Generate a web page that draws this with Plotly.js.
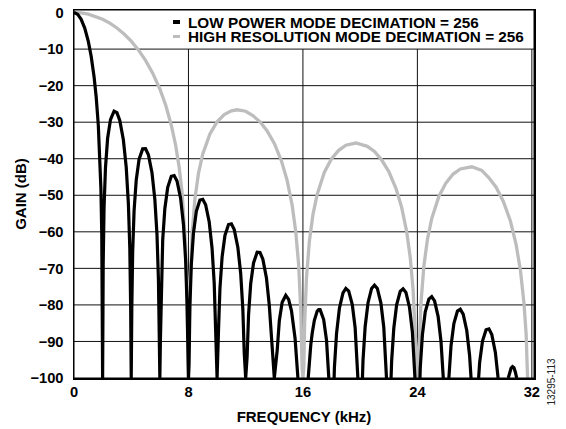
<!DOCTYPE html>
<html>
<head>
<meta charset="utf-8">
<script src="https://cdn.plot.ly/plotly-3.0.1.min.js"></script>
<style>
  html, body { margin: 0; padding: 0; background: #ffffff; overflow: hidden; }
  #wrap { position: relative; width: 566px; height: 429px; }
  #chart { width: 566px; height: 429px; }
  .key { position: absolute; left: 173px; width: 7px; height: 3.5px; }
  #fig { position: absolute; left: 551px; top: 382px; transform: translate(-50%, -50%) rotate(-90deg);
         font: 10px "Liberation Sans", Arial, sans-serif; color: #222222; white-space: nowrap; }
</style>
</head>
<body>
<div id="wrap">
  <div id="chart"></div>
  <div class="key" id="key0" style="top:20.25px;background:#000000;"></div>
  <div class="key" id="key1" style="top:34.75px;background:#bdbdbd;"></div>
  <div id="fig"></div>
</div>
<script>
// ---- Data ----
const seriesNames = [
  "LOW POWER MODE DECIMATION = 256",
  "HIGH RESOLUTION MODE DECIMATION = 256"
];

// Low power mode (black) – frequency in kHz, gain in dB (null = curve below the -100 dB floor)
const lowPowerFreq = [
  0, 0.25, 0.5, 0.75, 1.0, 1.2, 1.4, 1.55, 1.7, 1.8, 1.88, 1.94, 1.98, 2.0,
  2.04, 2.1, 2.2, 2.35, 2.55, 2.8, 3.0, 3.2, 3.45, 3.65, 3.8, 3.9, 3.96, 4.0,
  4.04, 4.1, 4.2, 4.35, 4.55, 4.8, 5.0, 5.2, 5.45, 5.65, 5.8, 5.9, 5.96, 6.0,
  6.04, 6.1, 6.2, 6.35, 6.55, 6.8, 7.0, 7.2, 7.45, 7.65, 7.8, 7.9, 7.96, 8.0,
  8.04, 8.1, 8.2, 8.35, 8.55, 8.8, 9.0, 9.2, 9.45, 9.65, 9.8, 9.9, 10.0,
  10.1, 10.2, 10.35, 10.55, 10.8, 11.0, 11.2, 11.45, 11.65, 11.8, 11.9, 12.0,
  12.1, 12.2, 12.35, 12.55, 12.8, 13.0, 13.2, 13.45, 13.65, 13.8, 14.0,
  14.2, 14.35, 14.55, 14.8, 15.0, 15.2, 15.45, 15.65, 16.0,
  16.37, 16.45, 16.55, 16.65, 16.8, 17.0, 17.1, 17.2, 17.45, 17.65, 17.8, 17.81, 18.0,
  18.18, 18.2, 18.35, 18.55, 18.8, 19.0, 19.2, 19.45, 19.65, 19.8, 19.84, 20.0,
  20.16, 20.2, 20.35, 20.55, 20.8, 21.0, 21.2, 21.45, 21.65, 21.8, 21.84, 22.0,
  22.16, 22.2, 22.35, 22.55, 22.8, 23.0, 23.2, 23.45, 23.65, 23.8, 23.83, 24.0,
  24.18, 24.2, 24.35, 24.55, 24.8, 25.0, 25.2, 25.45, 25.65, 25.8, 25.81, 26.0,
  26.2, 26.35, 26.55, 26.8, 27.0, 27.2, 27.45, 27.65, 27.75, 28.0,
  28.28, 28.35, 28.55, 28.8, 29.0, 29.2, 29.45, 29.64, 30.0,
  30.35, 30.45, 30.55, 30.65, 30.75, 30.85, 30.94
];
const lowPowerGain = [
  0, -0.45, -1.84, -4.25, -7.9, -11.96, -17.48, -23.1, -30.9, -38.6, -48.1, -60.6, -80.0, -100,
  -68.8, -53.4, -42.4, -34.4, -29.3, -27.0, -27.4, -29.5, -34.8, -42.3, -52.2, -64.4, -80.6, -100,
  -81.2, -65.6, -54.2, -45.8, -40.1, -37.3, -37.25, -38.9, -43.8, -51.1, -60.7, -72.9, -89.0, -100,
  -89.4, -73.7, -62.2, -53.6, -47.8, -44.8, -44.6, -46.1, -50.8, -58.0, -67.6, -79.8, -95.8, -100,
  -96.1, -80.4, -68.9, -60.3, -54.4, -51.3, -51.1, -52.6, -57.3, -64.5, -74.1, -86.2, -100,
  -86.9, -75.5, -66.9, -61.0, -58.0, -57.8, -59.4, -64.2, -71.4, -81.1, -93.3, -100,
  -94.1, -82.7, -74.2, -68.5, -65.6, -65.65, -67.5, -72.6, -80.1, -90.0, -100,
  -92.5, -84.3, -79.3, -77.4, -78.5, -81.6, -89.1, -100, null,
  -100, -95.3, -90.9, -87.7, -84.2, -81.7, -81.3, -81.3, -84.0, -89.7, -98.3, -100, null,
  -100, -97.2, -87.8, -80.9, -76.7, -75.5, -76.2, -79.9, -86.3, -95.3, -100, null,
  -100, -95.1, -85.9, -79.4, -75.5, -74.6, -75.5, -79.5, -86.1, -95.3, -100, null,
  -100, -95.4, -86.4, -80.0, -76.3, -75.6, -76.6, -80.7, -87.4, -96.7, -100, null,
  -100, -97.2, -88.2, -81.9, -78.4, -77.75, -78.9, -83.2, -90.0, -99.4, -100, null,
  -100, -91.2, -85.1, -81.7, -81.2, -82.5, -87.0, -93.9, -100, null,
  -100, -95.8, -89.9, -86.8, -86.55, -88.1, -93.0, -100, null,
  -100, -98.4, -97.3, -96.9, -97.2, -98.4, -100
];

// High resolution mode (gray)
const highResFreq = [
  0, 0.5, 1, 1.5, 2, 2.5, 3, 3.5, 4, 4.5, 5, 5.5, 6, 6.4, 6.8, 7.1, 7.35, 7.55, 7.7, 7.8, 7.88, 7.94, 8,
  8.06, 8.12, 8.25, 8.45, 8.7, 9.0, 9.5, 10, 10.5, 11, 11.4, 12, 12.5, 13, 13.5, 14, 14.5, 14.9, 15.25, 15.5, 15.7, 15.85, 15.94, 16,
  16.06, 16.12, 16.25, 16.45, 16.7, 17, 17.5, 18, 18.5, 19, 19.7, 20.5, 21, 21.5, 22, 22.5, 22.9, 23.25, 23.5, 23.7, 23.85, 24,
  24.12, 24.25, 24.45, 24.7, 25, 25.5, 26, 26.5, 27, 27.8, 28.5, 29, 29.5, 30, 30.5, 30.9, 31.2, 31.45, 31.6, 31.7
];
const highResGain = [
  0, -0.11, -0.45, -1.02, -1.82, -2.89, -4.22, -5.86, -7.84, -10.23, -13.1, -16.58, -20.91, -25.24, -30.78, -36.24, -42.32, -49.07, -56.42, -63.66, -72.7, -84.9, -100,
  -85.1, -73.2, -60.8, -51.0, -44.0, -38.7, -33.2, -29.9, -27.9, -26.9, -26.6, -27.0, -28.2, -29.9, -32.4, -35.8, -40.6, -46.0, -52.8, -60.0, -69.0, -81.2, -97.2, -100,
  -97.1, -85.1, -72.5, -62.6, -55.3, -49.7, -43.7, -40.0, -37.7, -36.3, -35.7, -36.6, -38.0, -40.3, -43.5, -48.1, -53.3, -59.9, -67.0, -75.9, -88.1, -100,
  -92.1, -79.5, -69.5, -62.1, -56.4, -50.3, -46.6, -44.2, -42.8, -42.2, -43.2, -45.2, -47.8, -51.6, -57.0, -63.5, -70.5, -79.5, -88, -100
];

const xTicks = [0, 8, 16, 24, 32];
const yTicks = [0, -10, -20, -30, -40, -50, -60, -70, -80, -90, -100];
const xTitle = "FREQUENCY (kHz)";
const yTitle = "GAIN (dB)";
const figureId = "13295-113";

// ---- Styling ----
const BLACK = "#000000";
const GRAY = "#bdbdbd";
const GRID = "#111111";
const FONT = "Liberation Sans, Arial, Helvetica, sans-serif";
const X_MAX = 32.15, Y_MIN = -100, Y_MAX = 0.7, KEY_BOTTOM = -10;

document.getElementById("fig").textContent = figureId;

// grid lines built from the tick arrays (vertical ones stop under the key box)
const gridX = [], gridY = [];
yTicks.filter(v => v > Y_MIN && v < 0).forEach(v => { gridX.push(0, X_MAX, null); gridY.push(v, v, null); });
xTicks.filter(v => v > 0).forEach(v => { gridX.push(v, v, null); gridY.push(Y_MIN, KEY_BOTTOM, null); });

const traces = [
  { x: gridX, y: gridY, type: "scatter", mode: "lines", line: { color: GRID, width: 1 },
    showlegend: false, hoverinfo: "skip", connectgaps: false },
  { x: highResFreq, y: highResGain, name: seriesNames[1], type: "scatter", mode: "lines",
    line: { color: GRAY, width: 3.3 }, showlegend: false, hoverinfo: "skip", connectgaps: false },
  { x: lowPowerFreq, y: lowPowerGain, name: seriesNames[0], type: "scatter", mode: "lines",
    line: { color: BLACK, width: 3.2 }, showlegend: false, hoverinfo: "skip", connectgaps: false },
  { x: [0, X_MAX, X_MAX, 0, 0], y: [Y_MIN, Y_MIN, Y_MAX, Y_MAX, Y_MIN], type: "scatter", mode: "lines",
    line: { color: BLACK, width: 1 }, showlegend: false, hoverinfo: "skip", cliponaxis: false }
];

// plot-area geometry, used only to place the key text in paper coordinates
const L = 74, R = 534, T = 10, B = 378;
const px2x = p => (p - L) / (R - L);
const py2y = p => (B - p) / (B - T);

const layout = {
  width: 566, height: 429,
  margin: { l: L, r: 566 - R, t: T, b: 429 - B, pad: 0 },
  paper_bgcolor: "#ffffff",
  plot_bgcolor: "#ffffff",
  font: { family: FONT, color: BLACK, size: 14.7 },
  showlegend: false,
  xaxis: {
    range: [0, X_MAX], tickvals: xTicks,
    showgrid: false, zeroline: false,
    showline: true, mirror: "all", linecolor: BLACK, linewidth: 1.5,
    ticks: "", ticklabelstandoff: 0,
    tickfont: { family: FONT, size: 14.7, weight: "bold", color: BLACK },
    title: { text: xTitle, font: { family: FONT, size: 15, weight: "bold", color: BLACK }, standoff: 12 },
    automargin: false
  },
  yaxis: {
    range: [Y_MIN, Y_MAX], tickvals: yTicks,
    showgrid: false, zeroline: false,
    showline: true, mirror: "all", linecolor: BLACK, linewidth: 1.5,
    ticks: "", ticklabelstandoff: 6,
    tickfont: { family: FONT, size: 14.7, weight: "bold", color: BLACK },
    title: { text: yTitle, font: { family: FONT, size: 15, weight: "bold", color: BLACK }, standoff: 0 },
    automargin: false
  },
  annotations: [
    { text: '<span style="font-size:15.3px">' + seriesNames[0] + '</span><br>' +
            '<span style="font-size:15.3px">' + seriesNames[1] + '</span>',
      xref: "paper", yref: "paper", x: px2x(187), y: py2y(29.3),
      xanchor: "left", yanchor: "middle", align: "left", showarrow: false, borderpad: 0,
      font: { family: FONT, size: 11.15, weight: "bold", color: BLACK } }
  ]
};

Plotly.newPlot("chart", traces, layout, { staticPlot: true, displayModeBar: false });
</script>
</body>
</html>
